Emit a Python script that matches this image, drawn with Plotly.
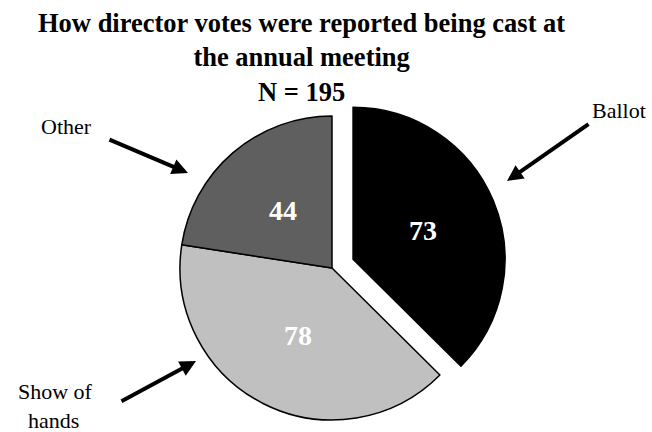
import math
import plotly.graph_objects as go

# Survey responses: how director votes were cast
categories = ["Ballot", "Show of hands", "Other"]
counts = [73, 78, 44]
slice_colors = ["#000000", "#c0c0c0", "#5f5f5f"]
total = sum(counts)

W, H = 652, 432
SERIF = "Liberation Serif, Times New Roman, serif"

# Pie geometry (pixels): centre and radius of the un-exploded pie
cx, cy, r = 332, 268, 152
pull = 0.15          # fraction of radius the Ballot wedge is pushed out
exploded = "Ballot"
label_radius = 0.5   # value labels sit halfway out along each wedge's mid-angle


def domain_for(px, py, radius):
    return dict(x=[(px - radius) / W, (px + radius) / W],
                y=[(H - py - radius) / H, (H - py + radius) / H])


def mid_angle(i):
    start = sum(counts[:i]) / total * 360
    return math.radians(start + counts[i] / total * 360 / 2)


# Offset of the exploded wedge
idx = categories.index(exploded)
m = mid_angle(idx)
dx = pull * r * math.sin(m)
dy = -pull * r * math.cos(m)

TRANSPARENT = "rgba(0,0,0,0)"


def pie_trace(show, center):
    colors = [c if s else TRANSPARENT for c, s in zip(slice_colors, show)]
    widths = [1.5 if s else 0 for s in show]
    return go.Pie(
        labels=categories, values=counts, sort=False, direction="clockwise",
        rotation=0, domain=domain_for(center[0], center[1], r),
        marker=dict(colors=colors, line=dict(color="#000000", width=widths)),
        textinfo="none", hoverinfo="skip", showlegend=False,
    )


fig = go.Figure()
fig.add_trace(pie_trace([c != exploded for c in categories], (cx, cy)))
fig.add_trace(pie_trace([c == exploded for c in categories], (cx + dx, cy + dy)))

annotations = []

# Value labels inside each wedge
for i, cat in enumerate(categories):
    ox, oy = (dx, dy) if cat == exploded else (0, 0)
    a = mid_angle(i)
    px = cx + ox + label_radius * r * math.sin(a)
    py = cy + oy - label_radius * r * math.cos(a)
    annotations.append(dict(
        text=str(counts[i]), x=px / W, y=1 - py / H, xref="paper", yref="paper",
        showarrow=False, xanchor="center", yanchor="middle",
        font=dict(family=SERIF, size=28, color="white", weight="bold")))

# Category labels and their pointer arrows (pixel positions)
label_pos = {
    "Ballot": [("Ballot", 619, 110)],
    "Show of hands": [("Show of", 55, 391), ("hands", 53, 420)],
    "Other": [("Other", 66, 126)],
}
arrows = {
    "Ballot": ((590, 123), (507, 181)),
    "Show of hands": ((120, 402), (196, 361)),
    "Other": ((108, 139), (188, 173)),
}

for cat in categories:
    for txt, x, y in label_pos[cat]:
        annotations.append(dict(
            text=txt, x=x / W, y=1 - y / H, xref="paper", yref="paper",
            showarrow=False, xanchor="center", yanchor="middle",
            font=dict(family=SERIF, size=22, color="black")))
    (tx, ty), (hx, hy) = arrows[cat]
    annotations.append(dict(
        text="", x=hx / W, y=1 - hy / H, xref="paper", yref="paper",
        ax=tx - hx, ay=ty - hy, axref="pixel", ayref="pixel",
        showarrow=True, arrowhead=2, arrowsize=0.8, arrowwidth=4,
        arrowcolor="black", standoff=0))

# Chart title
annotations.append(dict(
    text="How director votes were reported being cast at<br>the annual meeting<br>N = " + str(total),
    x=301 / W, y=1 - 6 / H, xref="paper", yref="paper",
    xanchor="center", yanchor="top", align="center", showarrow=False,
    font=dict(family=SERIF, size=26.5, color="black", weight="bold")))

fig.update_layout(
    width=W, height=H,
    margin=dict(l=0, r=0, t=0, b=0),
    paper_bgcolor="white", plot_bgcolor="white",
    annotations=annotations,
)

fig.write_html("out.html")
